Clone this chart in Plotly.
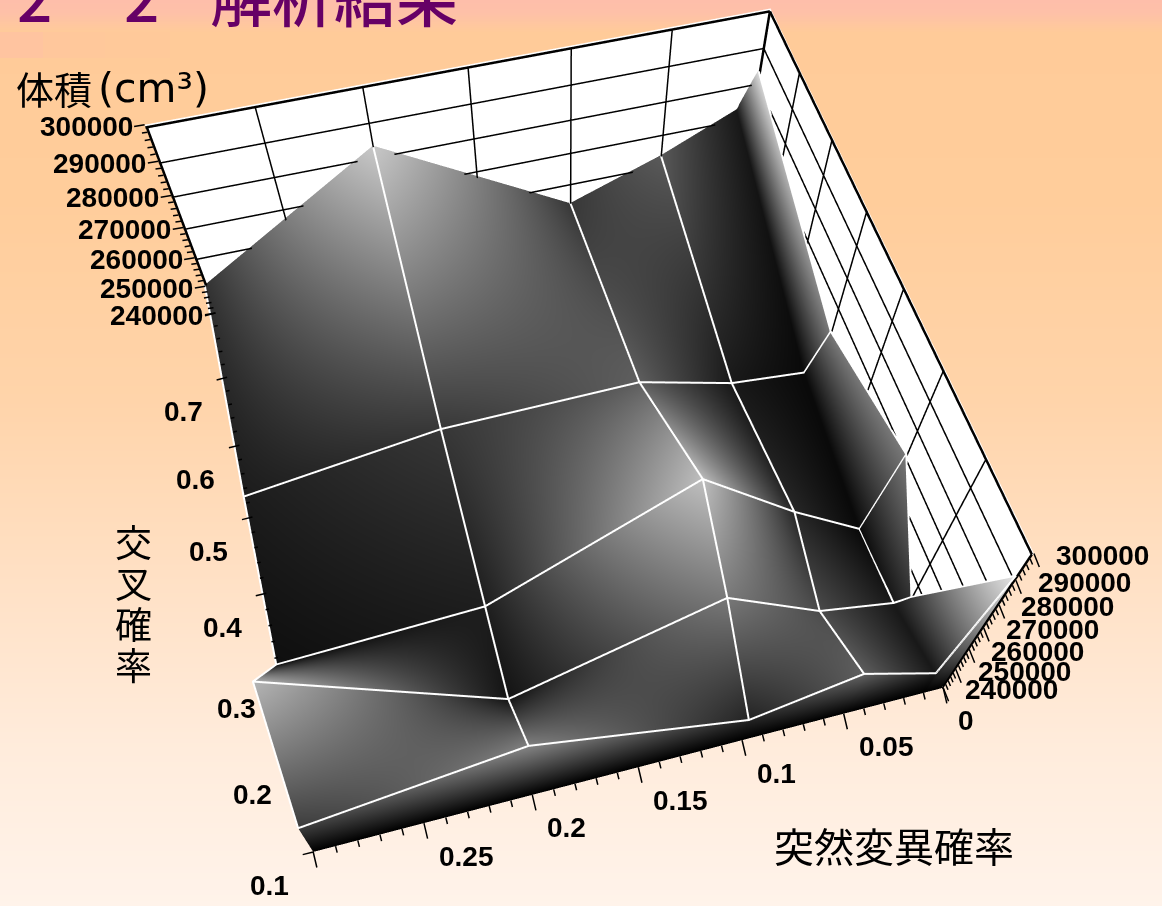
import numpy as np
import plotly.graph_objects as go

W, H = 1162, 1102
FLOOR, TOP = 240000, 300000

mutation = [0.3, 0.2, 0.1, 0.05, 0.01, 0.0]
crossover = [0.1, 0.2, 0.3, 0.5, 0.8]

# Volume per crossover rate, one value per mutation rate
volume_c10 = [255900, 268500, 251100, 260800, 250100, 291600]
volume_c20 = [281400, 244000, 267500, 249500, 243800, 244600]
volume_c30 = [244700, 248400, 280400, 257800, 242200, 271300]
volume_c50 = [248600, 257600, 258700, 250300, 248000, 261900]
volume_c80 = [250500, 283100, 253200, 263100, 273000, 283500]

# Grey level per node
shade_c10 = [60, 130, 35, 95, 25, 230]
shade_c20 = [180, 20, 120, 75, 25, 50]
shade_c30 = [15, 30, 190, 40, 10, 120]
shade_c50 = [28, 55, 95, 25, 10, 120]
shade_c80 = [50, 200, 55, 90, 25, 220]

x_ticks = [0, 0.05, 0.1, 0.15, 0.2, 0.25]
y_ticks = [0.1, 0.2, 0.3, 0.4, 0.5, 0.6, 0.7]
z_ticks = [240000, 250000, 260000, 270000, 280000, 290000, 300000]

eye = dict(x=-0.2727, y=-1.1074, z=1.7196)
center = dict(x=0.0022, y=-0.1687, z=-0.1526)
up = dict(x=-0.0115, y=-0.005, z=1)
aspect = dict(x=1, y=1.0234, z=0.4581)

volume = np.array([volume_c10, volume_c20, volume_c30, volume_c50, volume_c80], float)
shade = np.array([shade_c10, shade_c20, shade_c30, shade_c50, shade_c80], float) / 255

# The surface hangs curtains down to the floor along the y=0.1 and x=0 edges,
# held just inside the walls so the wall grid stays behind them
surf_x = mutation[:-1] + [0.0013, 0.0011]
surf_y = [0.1, 0.1003] + crossover[1:]
surf_z = np.hstack([volume, np.full((5, 1), FLOOR)])
surf_z = np.vstack([np.full(7, FLOOR), surf_z])
surf_c = np.hstack([shade, np.zeros((5, 1))])
surf_c = np.vstack([np.zeros(7), surf_c])

fig = go.Figure()
stops = [(0,(254,190,170)),(12,(254,192,168)),(32,(255,203,153)),(200,(255,205,155)),(400,(255,212,170)),
         (600,(255,226,200)),(750,(255,236,220)),(906,(255,243,234)),(H,(255,243,234))]
fig.add_trace(go.Heatmap(z=[[0,0],[1,1]], x=[0,1], y=[0,1], zsmooth="best", showscale=False, hoverinfo="skip",
    colorscale=[[s/H, "rgb(%d,%d,%d)"%c] for s, c in stops], zmin=0, zmax=1))
fig.add_trace(go.Surface(x=surf_x, y=surf_y, z=surf_z, surfacecolor=surf_c, cmin=0, cmax=1,
    colorscale=[[0,"black"],[1,"white"]], showscale=False,
    lighting=dict(ambient=1, diffuse=0, specular=0, roughness=1, fresnel=0), hoverinfo="skip"))

# White mesh over the surface nodes, lifted a hair so it never sinks into the faces
LIFT = 350
mesh_x = mutation[:-1] + [surf_x[-2]]
mesh_y = [crossover[0] + 0.0004] + crossover[1:]
lx, ly, lz = [], [], []
for i, c in enumerate(mesh_y):
    lx += mesh_x + [None]; ly += [c]*6 + [None]; lz += list(volume[i] + LIFT) + [None]
for j, m in enumerate(mesh_x):
    # the x=0.01 column only shows between the 0.3 and 0.2 rows, the fold hides the rest
    idx = [1, 2] if j == 4 else range(5)
    lx += [m]*len(idx) + [None]; ly += [mesh_y[i] for i in idx] + [None]; lz += [volume[i, j] + LIFT for i in idx] + [None]
# corner of the x=0 curtain at the back
lx += [mesh_x[-1]]*2 + [None]; ly += [0.8]*2 + [None]; lz += [volume[4, 5] + LIFT, FLOOR] + [None]
fig.add_trace(go.Scatter3d(x=lx, y=ly, z=lz, mode="lines", line=dict(color="white", width=4), hoverinfo="skip"))

# Black grid on the two back walls, set slightly off the wall planes
WX, WY, WZ = 0.0007, 0.797, TOP - 200
gx, gy, gz = [], [], []
def seg(a, b):
    gx.extend([a[0], b[0], None]); gy.extend([a[1], b[1], None]); gz.extend([a[2], b[2], None])
for v in z_ticks[1:-1]:
    seg((.3,WY,v), (WX,WY,v)); seg((WX,WY,v), (WX,.1,v))
for v in x_ticks[1:]:
    seg((v,WY,FLOOR), (v,WY,WZ))
for v in y_ticks[1:]:
    seg((WX,v,FLOOR), (WX,v,WZ))
fig.add_trace(go.Scatter3d(x=gx, y=gy, z=gz, mode="lines", line=dict(color="black", width=3), hoverinfo="skip"))
gx, gy, gz = [], [], []
seg((.3,WY,WZ), (WX,WY,WZ)); seg((WX,WY,WZ), (WX,.1,WZ)); seg((.2993,WY,FLOOR), (.2993,WY,WZ))
seg((WX,WY,FLOOR), (WX,WY,WZ)); seg((WX,.1,FLOOR), (WX,.1,WZ))
fig.add_trace(go.Scatter3d(x=gx, y=gy, z=gz, mode="lines", line=dict(color="black", width=5), hoverinfo="skip"))

def tick(x, y, z, ax, ay, w=1.5):
    return dict(x=x, y=y, z=z, text="", showarrow=True, arrowhead=0, ax=ax, ay=ay, arrowwidth=w, arrowcolor="black", standoff=0)
def lab(x, y, z, t, xa, xs, ys):
    return dict(x=x, y=y, z=z, text=t, showarrow=False, xanchor=xa, yanchor="middle", xshift=xs, yshift=ys,
                font=dict(family="Liberation Sans", size=28, color="black", weight="bold"))
ann = []
for k in range(31):
    v = round(k*.01, 2); m = k % 5 == 0
    ann.append(tick(v, .1, FLOOR, 4 if m else 2, 17 if m else 8))
for k in range(36):
    v = round(.1+k*.02, 2); m = k % 5 == 0
    # the folded corner of the surface hides the ticks between 0.12 and 0.30
    if 0.11 < v < 0.31:
        continue
    ann.append(tick(.3, v, FLOOR, -12 if m else -5, 3 if m else 1))
for k in range(31):
    v = FLOOR+k*2000; m = k % 5 == 0
    ann.append(tick(.3, .8, v, -12 if m else -7, 2 if m else 1))
    ann.append(tick(0, .1, v, 6 if m else 3, 15 if m else 7))
for v in x_ticks:
    ann.append(lab(v, .1, FLOOR, f"{v:g}", "left", 13, -33))
for v in y_ticks:
    ann.append(lab(.3, v, FLOOR, f"{v:g}", "center", -44, -34))
for v in z_ticks:
    ann.append(lab(.3, .8, v, str(v), "right", -10, -2))
    ann.append(lab(0, .1, v, str(v), "left", 20, -2))

ax_common = dict(showbackground=True, backgroundcolor="white", showgrid=False, showline=False,
    showticklabels=False, ticks="", title=dict(text=""), zeroline=False, showspikes=False)
fig.update_layout(width=W, height=H, autosize=False, margin=dict(l=0,r=0,t=0,b=0), paper_bgcolor="white", showlegend=False,
    xaxis=dict(visible=False, range=[0,1], domain=[0,1], fixedrange=True),
    yaxis=dict(visible=False, range=[1,0], domain=[0,1], fixedrange=True),
    scene=dict(domain=dict(x=[0,1], y=[0,1]), bgcolor="rgba(0,0,0,0)", aspectmode="manual", dragmode="orbit",
        aspectratio=aspect, camera=dict(eye=eye, center=center, up=up),
        xaxis=dict(range=[.3,0], **ax_common),
        yaxis=dict(range=[.1,.8], **ax_common),
        zaxis=dict(range=[FLOOR,TOP], **ax_common),
        annotations=ann))

def px(x): return x/W
def py(y): return 1-y/H
page = []
def txt(x, y, t, size, color="black", weight="normal", xa="left", ya="middle", family="Noto Sans CJK JP"):
    page.append(dict(x=px(x), y=py(y), xref="paper", yref="paper", text=t, showarrow=False, xanchor=xa, yanchor=ya,
        font=dict(family=family, size=size, color=color, weight=weight)))
purple = "#660066"
txt(15, -5, "2", 62, purple, 500); txt(122, -5, "2", 62, purple, 500); txt(208, -5, "解析結果", 62, purple, 500)
txt(14, 88, "体積", 38)
txt(96, 88, "(cm³)", 41, family="DejaVu Sans")
txt(772, 845, "突然変異確率", 40)
for i, ch in enumerate("交叉確率"):
    txt(133, 541+i*41, ch, 37, xa="center")

# Faint pink strip under the heading
shapes = []
for x0, x1, a in [(0, 43, .4), (43, 70, .22), (70, 105, .12), (105, 170, .05)]:
    shapes.append(dict(type="rect", xref="paper", yref="paper", x0=px(x0), x1=px(x1), y0=py(58), y1=py(32),
        fillcolor="rgb(255,185,170)", opacity=a, line=dict(width=0), layer="above"))
fig.update_layout(annotations=page, shapes=shapes)
fig.write_html("out.html", post_script="document.documentElement.style.overflow='hidden';document.body.style.overflow='hidden';")
